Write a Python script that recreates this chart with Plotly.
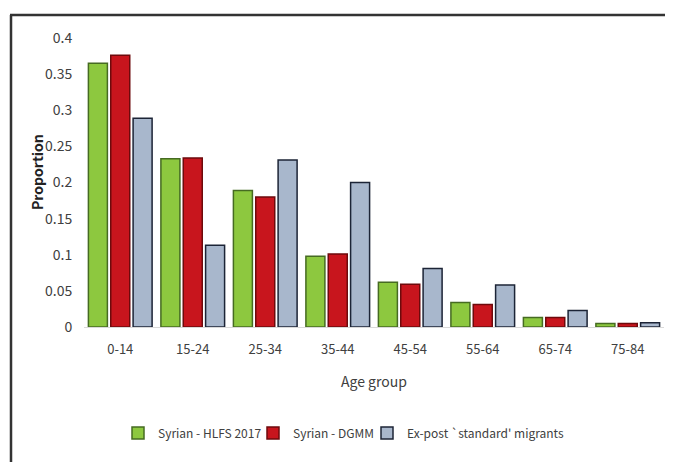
import plotly.graph_objects as go

age_groups = ["0-14", "15-24", "25-34", "35-44", "45-54", "55-64", "65-74", "75-84"]
hlfs_2017 = [0.365, 0.233, 0.189, 0.098, 0.062, 0.034, 0.013, 0.005]
dgmm = [0.376, 0.234, 0.180, 0.101, 0.059, 0.031, 0.013, 0.005]
expost_migrants = [0.289, 0.113, 0.231, 0.200, 0.081, 0.058, 0.023, 0.006]
y_ticks = [0, 0.05, 0.1, 0.15, 0.2, 0.25, 0.3, 0.35, 0.4]
y_tick_labels = ["0", "0.05", "0.1", "0.15", "0.2", "0.25", "0.3", "0.35", "0.4"]

FONT = "Noto Sans CJK SC, Lato, Liberation Sans, Arial, sans-serif"
OFF = 8  # page body margin
W, H = 673 - OFF, 462 - OFF
# target plot area in window pixels
PX0, PX1, PY0, PY1 = 84, 664, 38, 327
L, T = PX0 - OFF, PY0 - OFF
R, B = W - (PX1 - OFF), H - (PY1 - OFF)
pw, ph = PX1 - PX0, PY1 - PY0

def px_x(x):
    return (x - PX0) / pw

def px_y(y):
    return (PY1 - y) / ph

fig = go.Figure()
fig.add_trace(go.Bar(x=age_groups, y=hlfs_2017, name="Syrian - HLFS 2017", legend="legend",
                     marker=dict(color="#8DC83F", line=dict(color="#466B22", width=1.5))))
fig.add_trace(go.Bar(x=age_groups, y=dgmm, name="Syrian - DGMM", legend="legend2",
                     marker=dict(color="#C8151D", line=dict(color="#6E0A0C", width=1.5))))
fig.add_trace(go.Bar(x=age_groups, y=expost_migrants, name="Ex-post `standard' migrants",
                     legend="legend3",
                     marker=dict(color="#A8B7CC", line=dict(color="#1C2436", width=1.5))))

def leg(xpx):
    return dict(orientation="h", x=px_x(xpx), y=px_y(433), xanchor="left", yanchor="middle",
                font=dict(size=12, color="#404040"), itemwidth=30, tracegroupgap=0,
                bgcolor="rgba(0,0,0,0)")

fig.update_layout(
    width=W, height=H,
    margin=dict(l=L, r=R, t=T, b=B, autoexpand=False),
    paper_bgcolor="white", plot_bgcolor="white",
    font=dict(family=FONT, size=14, color="#404040"),
    barmode="group", bargap=0.075, bargroupgap=0.15,
    showlegend=True,
    legend=leg(118), legend2=leg(253), legend3=leg(367),
    xaxis=dict(showgrid=False, showline=True, linecolor="#D9D9D9", linewidth=1,
               ticks="outside", ticklen=10, tickcolor="rgba(0,0,0,0)",
               tickfont=dict(size=13, color="#404040"),
               title=dict(text="Age group", font=dict(size=14, color="#404040"), standoff=20)),
    yaxis=dict(range=[0, 0.4], tickvals=y_ticks, ticktext=y_tick_labels, showgrid=False,
               zeroline=False, showline=False, ticks="outside", ticklen=8,
               tickcolor="rgba(0,0,0,0)", tickfont=dict(size=14, color="#404040")),
    annotations=[
        dict(text="<b>Proportion</b>", xref="paper", yref="paper", x=px_x(37), y=px_y(172),
             xanchor="center", yanchor="middle", textangle=-90, showarrow=False,
             font=dict(size=14, color="#222222")),
    ],
    shapes=[
        dict(type="line", xref="paper", yref="paper", x0=px_x(11), x1=px_x(11),
             y0=px_y(15), y1=px_y(480), line=dict(color="#333333", width=2.5)),
        dict(type="line", xref="paper", yref="paper", x0=px_x(10), x1=px_x(690),
             y0=px_y(15), y1=px_y(15), line=dict(color="#333333", width=2.5)),
    ],
)

fig.write_html("out.html")
